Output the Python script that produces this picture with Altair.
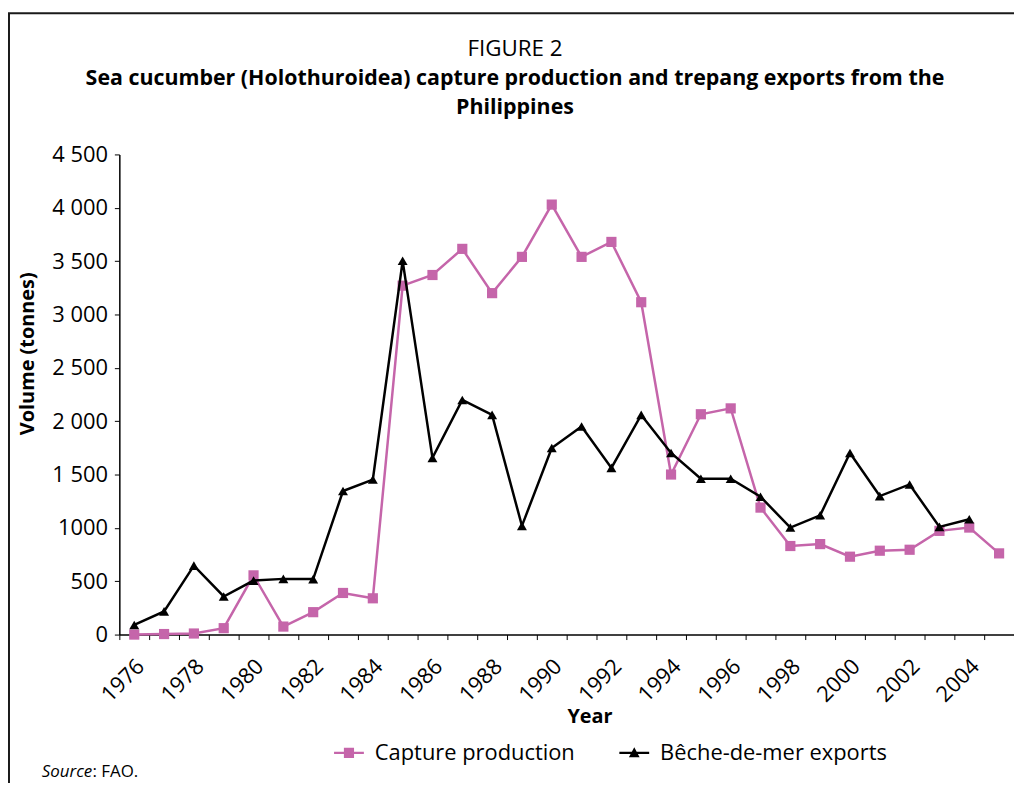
import altair as alt
import pandas as pd

# ---- data ----
years = list(range(1976, 2006))
capture = [0, 5, 10, 60, 555, 75, 210, 390, 340, 3270,
           3370, 3615, 3200, 3540, 4030, 3540, 3680, 3115, 1500, 2065,
           2120, 1190, 830, 848, 730, 786, 795, 972, 1003, 761]
exports = [90, 217, 646, 357, 506, 522, 520, 1345, 1453, 3503,
           1656, 2199, 2059, 1019, 1749, 1950, 1562, 2059, 1702, 1460,
           1460, 1292, 1003, 1118, 1702, 1298, 1407, 1009, 1081, None]
series_names = ["Capture production", "Bêche-de-mer exports"]
series_colors = ["#C565AA", "#000000"]
series_markers = ["square", "triangle-up"]
y_tick_values = [0, 500, 1000, 1500, 2000, 2500, 3000, 3500, 4000, 4500]
y_tick_labels = ["0", "500", "1000", "1 500", "2 000", "2 500", "3 000", "3 500", "4 000", "4 500"]
title_lines = ["FIGURE 2",
               "Sea cucumber (Holothuroidea) capture production and trepang exports from the",
               "Philippines"]

rows = []
for name, vals in zip(series_names, [capture, exports]):
    for yr, v in zip(years, vals):
        if v is not None:
            rows.append({"Year": yr, "Volume": v, "Series": name})
df = pd.DataFrame(rows)

FONT = "Open Sans"

label_expr = " : ".join(
    f"datum.value == {v} ? '{l}'" for v, l in zip(y_tick_values, y_tick_labels)
) + " : ''"

x_enc = alt.X(
    "Year:O",
    scale=alt.Scale(type="band", paddingInner=0, paddingOuter=0),
    axis=alt.Axis(
        title="Year", titleFont=FONT, titleFontSize=20, titleFontWeight="bold",
        titleColor="black", titleX=473, titleY=82, titleAlign="center",
        titleBaseline="middle",
        labelAngle=-45, labelAlign="right", labelBaseline="middle",
        labelPadding=23, labelOffset=6, labelFont=FONT, labelFontSize=22,
        labelColor="black",
        labelExpr="datum.value % 2 == 0 ? datum.label : ''",
        labelOverlap=False, tickBand="extent", tickSize=5, tickColor="black",
        domainColor="black", domainWidth=1.5, grid=False, gridColor="blue",
    ),
)
y_enc = alt.Y(
    "Volume:Q",
    scale=alt.Scale(domain=[0, 4500], nice=False),
    axis=alt.Axis(
        values=y_tick_values, labelExpr=label_expr,
        title="Volume (tonnes)", titleFont=FONT, titleFontSize=20,
        titleFontWeight="bold", titleColor="black", titleX=-92, titleY=200,
        titleAlign="center", titleBaseline="middle", titleAngle=-90,
        labelFont=FONT, labelFontSize=22, labelColor="black", labelPadding=7,
        tickSize=5, tickColor="black", domainColor="black", domainWidth=1.5,
        grid=False, gridColor="red",
    ),
)
color_scale = alt.Scale(domain=series_names, range=series_colors)

series_layers = []
for name, col, mk in zip(series_names, series_colors, series_markers):
    base = alt.Chart(df).transform_filter(alt.datum.Series == name)
    series_layers.append(
        base.mark_line(strokeWidth=2.5, color=col).encode(x=x_enc, y=y_enc)
    )
    series_layers.append(
        base.mark_point(filled=True, opacity=1, size=105 if mk == "square" else 100,
                        shape=mk, color=col).encode(x=x_enc, y=y_enc)
    )

legend_paths = [
    "M-1,-0.08H1V0.08H-1Z M-0.34,-0.34H0.34V0.34H-0.34Z",
    "M-1,-0.08H1V0.08H-1Z M0,-0.38L0.36,0.3H-0.36Z",
]
legend_cfg = alt.Legend(
    orient="none", legendX=216, legendY=587, direction="horizontal",
    title=None, labelFont=FONT, labelFontSize=22, labelColor="black",
    labelLimit=400, columnPadding=44, padding=0, symbolSize=900,
    symbolStrokeWidth=0, symbolOpacity=1, labelOffset=11,
)
legend_layer = alt.Chart(df).mark_point(filled=True, opacity=0).encode(
    x=x_enc, y=y_enc,
    color=alt.Color("Series:N", scale=color_scale, legend=legend_cfg),
    shape=alt.Shape("Series:N",
                    scale=alt.Scale(domain=series_names, range=legend_paths),
                    legend=legend_cfg),
)

one = pd.DataFrame({"k": [0]})
frame_left = alt.Chart(one).mark_rule(color="#1a1a1a", strokeWidth=2).encode(
    x=alt.value(-111), y=alt.value(-142), y2=alt.value(700))
frame_top = alt.Chart(one).mark_rule(color="#1a1a1a", strokeWidth=2).encode(
    x=alt.value(-112), x2=alt.value(910), y=alt.value(-142))

t1 = alt.Chart(one).mark_text(font=FONT, fontSize=22.5, color="black",
                              align="center", baseline="middle").encode(
    x=alt.value(398), y=alt.value(-106), text=alt.value(title_lines[0]))
t2 = alt.Chart(one).mark_text(font=FONT, fontSize=21.5, fontWeight="bold", color="black",
                              align="center", baseline="middle").encode(
    x=alt.value(398), y=alt.value(-76), text=alt.value(title_lines[1]))
t3 = alt.Chart(one).mark_text(font=FONT, fontSize=21.5, fontWeight="bold", color="black",
                              align="center", baseline="middle").encode(
    x=alt.value(398), y=alt.value(-47), text=alt.value(title_lines[2]))

src1 = alt.Chart(one).mark_text(font=FONT, fontSize=17, fontStyle="italic",
                                align="left", baseline="middle", color="black").encode(
    x=alt.value(-78), y=alt.value(621), text=alt.value("Source"))
src2 = alt.Chart(one).mark_text(font=FONT, fontSize=17,
                                align="left", baseline="middle", color="black").encode(
    x=alt.value(-27), y=alt.value(621), text=alt.value(": FAO."))

chart = alt.layer(
    frame_left, frame_top, t1, t2, t3, *series_layers, legend_layer, src1, src2
).properties(
    width=900, height=483,
    background="white",
    autosize=alt.AutoSizeParams(type="none"),
    padding={"left": 112, "top": 145, "right": 0, "bottom": 147},
).configure_view(stroke=None).configure_axis(grid=False, gridColor="green")

chart.save("out.html", embed_options={"renderer": "svg", "actions": False})
